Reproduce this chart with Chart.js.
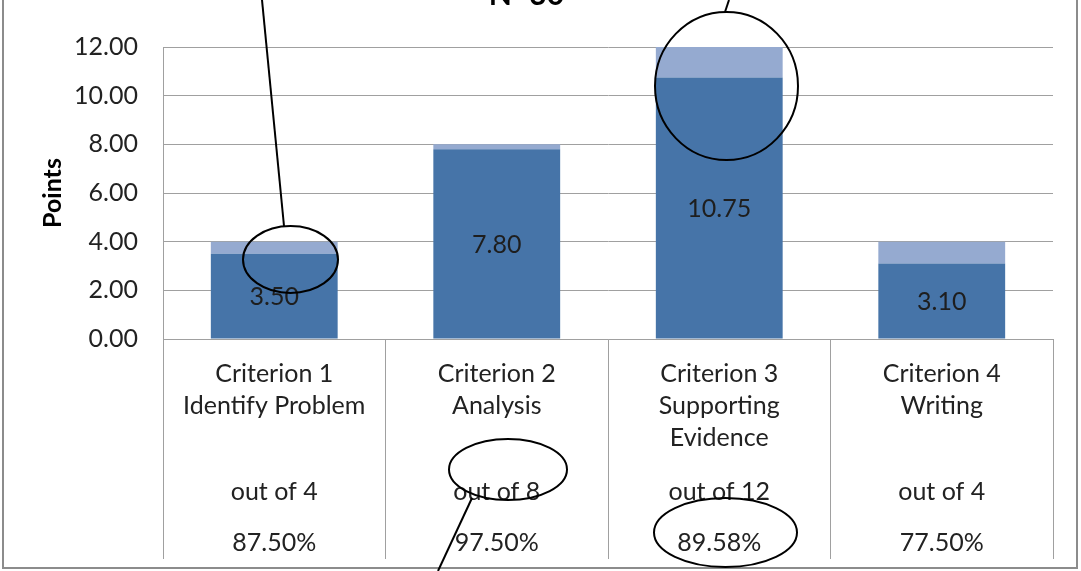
<!DOCTYPE html>
<html>
<head>
    <title>Criterion Scores N=30</title>
    <script src="https://cdn.jsdelivr.net/npm/chart.js"></script>
    <style>
        body {
            margin: 0;
            padding: 0;
            background-color: #fff;
        }
        .chart-container {
            position: relative;
            width: 1081px;
            height: 571px;
        }
    </style>
</head>
<body>
    <div class="chart-container">
        <canvas id="chart"></canvas>
    </div>

<script>
        // Chart data
        const chartTitle = 'N=30';
        const categoryLabels = [
            ['Criterion 1', 'Identify Problem'],
            ['Criterion 2', 'Analysis'],
            ['Criterion 3', 'Supporting', 'Evidence'],
            ['Criterion 4', 'Writing']
        ];
        const meanScores = [3.50, 7.80, 10.75, 3.10];
        const maxPoints = [4, 8, 12, 4];
        const percentLabels = ['87.50%', '97.50%', '89.58%', '77.50%'];
        const yMin = 0;
        const yMax = 12;
        const yStep = 2;

        const remaining = maxPoints.map((m, i) => m - meanScores[i]);
        const outOfLabels = maxPoints.map((m, i) => ['out of ' + m, percentLabels[i]]);

        const FONT = 'Lato, "Noto Sans", sans-serif';
        const GRID = '#a0a0a0';
        const TEXT_SIZE = 25;

        // hand drawn callouts on top of the chart
        const callouts = [
            { cx: 290.5, cy: 259.5, rx: 47.5, ry: 33.5, line: [262, 0, 284, 226] },
            { cx: 726.5, cy: 86, rx: 71.5, ry: 74, line: [729, 0, 725, 12] },
            { cx: 508, cy: 469.5, rx: 59, ry: 30.5, line: [472, 498, 438, 571] },
            { cx: 725.5, cy: 532.5, rx: 71.5, ry: 34.5, line: null }
        ];

        // value labels in the middle of the score segment
        const valueLabels = {
            id: 'valueLabels',
            afterDatasetsDraw(chart) {
                const ctx = chart.ctx;
                const meta = chart.getDatasetMeta(0);
                ctx.save();
                ctx.font = TEXT_SIZE + 'px ' + FONT;
                ctx.fillStyle = '#1e1e1e';
                ctx.textAlign = 'center';
                ctx.textBaseline = 'middle';
                meta.data.forEach((bar, i) => {
                    ctx.fillText(meanScores[i].toFixed(2), bar.x, (bar.y + bar.base) / 2 + 1);
                });
                ctx.restore();
            }
        };

        const overlay = {
            id: 'overlay',
            afterDraw(chart) {
                const ctx = chart.ctx;
                ctx.save();
                // outer frame
                ctx.strokeStyle = '#8c8c8c';
                ctx.lineWidth = 2;
                ctx.strokeRect(3, -5, 1074, 573);
                // callouts
                ctx.strokeStyle = '#000';
                ctx.lineWidth = 2;
                callouts.forEach(c => {
                    ctx.beginPath();
                    ctx.ellipse(c.cx, c.cy, c.rx, c.ry, 0, 0, Math.PI * 2);
                    ctx.stroke();
                    if (c.line) {
                        ctx.beginPath();
                        ctx.moveTo(c.line[0], c.line[1]);
                        ctx.lineTo(c.line[2], c.line[3]);
                        ctx.stroke();
                    }
                });
                ctx.restore();
            }
        };

        window.onload = function() {
            const ctx = document.getElementById('chart').getContext('2d');
            new Chart(ctx, {
                type: 'bar',
                data: {
                    labels: categoryLabels,
                    datasets: [
                        {
                            label: 'Mean score',
                            data: meanScores,
                            backgroundColor: '#4674a8',
                            categoryPercentage: 1,
                            barPercentage: 0.57
                        },
                        {
                            label: 'Points possible',
                            data: remaining,
                            backgroundColor: '#95aad0',
                            categoryPercentage: 1,
                            barPercentage: 0.57
                        }
                    ]
                },
                options: {
                    responsive: true,
                    maintainAspectRatio: false,
                    animation: false,
                    layout: {
                        padding: { left: 0, right: 28, top: 0, bottom: 0 }
                    },
                    plugins: {
                        legend: { display: false },
                        tooltip: { enabled: false },
                        title: {
                            display: true,
                            text: chartTitle,
                            color: '#000',
                            font: { family: FONT, size: 30, weight: 'bold' },
                            padding: { top: -23, bottom: 34 }
                        }
                    },
                    scales: {
                        x: {
                            stacked: true,
                            offset: true,
                            grid: {
                                offset: true,
                                drawOnChartArea: false,
                                drawTicks: true,
                                tickLength: 220,
                                color: GRID
                            },
                            border: { display: true, color: GRID },
                            ticks: {
                                color: '#222',
                                font: { family: FONT, size: TEXT_SIZE, lineHeight: 32 / TEXT_SIZE },
                                padding: -201,
                                maxRotation: 0,
                                autoSkip: false
                            },
                            afterFit(scale) { scale.height = 115; }
                        },
                        x2: {
                            type: 'category',
                            position: 'bottom',
                            labels: outOfLabels,
                            offset: true,
                            grid: { display: false, drawTicks: false },
                            border: { display: false },
                            ticks: {
                                color: '#222',
                                font: { family: FONT, size: TEXT_SIZE, lineHeight: 51 / TEXT_SIZE },
                                padding: 12,
                                maxRotation: 0,
                                autoSkip: false
                            },
                            afterFit(scale) { scale.height = 117; }
                        },
                        y: {
                            stacked: true,
                            min: yMin,
                            max: yMax,
                            grid: {
                                color: GRID,
                                drawTicks: false
                            },
                            border: { display: true, color: GRID },
                            ticks: {
                                stepSize: yStep,
                                color: '#222',
                                padding: 25,
                                font: { family: FONT, size: TEXT_SIZE },
                                callback: v => v.toFixed(2)
                            },
                            title: {
                                display: true,
                                text: 'Points',
                                color: '#000',
                                font: { family: FONT, size: TEXT_SIZE, weight: 'bold' },
                                padding: { top: 38, bottom: 0 }
                            },
                            afterFit(scale) { scale.width = 163; }
                        }
                    }
                },
                plugins: [valueLabels, overlay]
            });
        };
    </script>
</body>
</html>
